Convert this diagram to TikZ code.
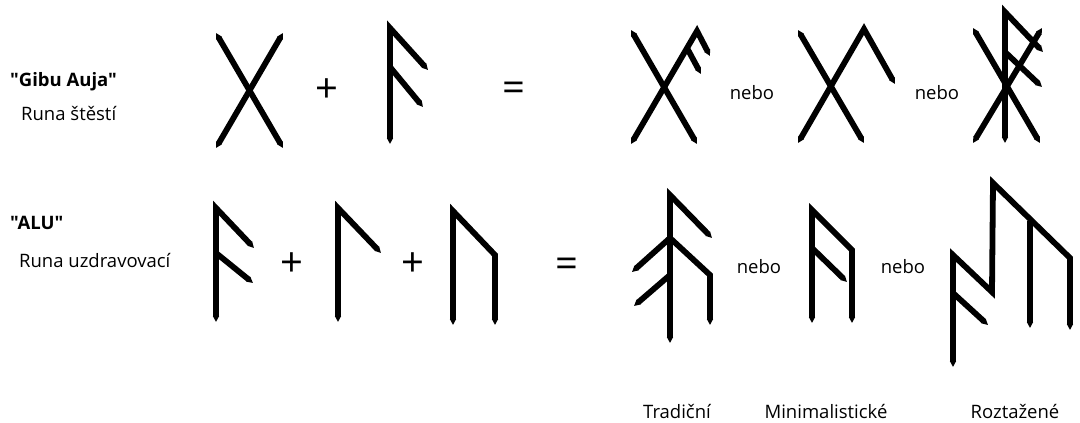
\documentclass[tikz,border=0pt]{standalone}
\usepackage{fontspec}
\setmainfont{Open Sans}[Ligatures=TeXOff]
\usetikzlibrary{arrows.meta}
\begin{document}
\begin{tikzpicture}[x=1pt,y=-1pt,
  rune/.style={line width=5.8pt, line cap=butt, line join=miter, miter limit=20},
  bothtip/.style={rune,{Triangle[length=6pt,width=5.9pt]}-{Triangle[length=6pt,width=5.9pt]}},
  starttip/.style={rune,{Triangle[length=6pt,width=5.9pt]}-},
  endtip/.style={rune,-{Triangle[length=6pt,width=5.9pt]}},
  title/.style={font=\fontsize{18.5}{21}\selectfont\bfseries, inner sep=0pt, anchor=base west},
  sub/.style={font=\fontsize{18.5}{21}\selectfont, inner sep=0pt, anchor=base west},
  lbl/.style={font=\fontsize{18.5}{21}\selectfont, inner sep=0pt, anchor=base},
  op/.style={font=\fontsize{40}{40}\selectfont, inner sep=0pt}]
\useasboundingbox[fill=white] (0,0) rectangle (1080,423);

% ---------- left labels ----------
\node[title] (gibu) at (10,86) {"Gibu Auja"};
\node[sub] (stesti) at (21,120) {Runa štěstí};
\node[title] (alu) at (10,229) {"ALU"};
\node[sub] (uzdr) at (19,267) {Runa uzdravovací};

% ---------- row 1 ----------
% Gebo
\draw[bothtip] (216,33) -- (283,148);
\draw[bothtip] (216,148) -- (283,33);
\node[op] (plus1) at (327,91) {+};
% Ansuz
\draw[bothtip] (390,144) -- (390,28) -- (428,70);
\draw[endtip] (390,67) -- (423,107);
\node[op] (eq1) at (514,92) {=};
% result 1
\draw[bothtip] (631,30) -- (697,144);
\draw[bothtip] (631,144) -- (697,31) -- (710,56);
\draw[endtip] (687,48) -- (701,74);
\node[lbl] (nebo1) at (752,99) {nebo};
% result 2
\draw[bothtip] (798,30) -- (864,143);
\draw[bothtip] (798,143) -- (864,29) -- (895,84);
\node[lbl] (nebo2) at (937,99) {nebo};
% result 3
\draw[bothtip] (1005,143) -- (1005,12) -- (1043,52);
\draw[bothtip] (973,28) -- (1040,143);
\draw[bothtip] (973,143) -- (1042,28);
\draw[endtip] (1005,52) -- (1042,87);

% ---------- row 2 ----------
% Ansuz
\draw[bothtip] (216,322) -- (216,208) -- (254,248);
\draw[endtip] (216,253) -- (253,283);
\node[op] (plus2) at (292,265) {+};
% Laguz
\draw[bothtip] (338,322) -- (338,208) -- (381,253);
\node[op] (plus3) at (413,265) {+};
% Uruz
\draw[bothtip] (453,325) -- (453,211) -- (495,255) -- (495,325);
\node[op] (eq2) at (567,268) {=};
% Tradicni
\draw[bothtip] (670,343) -- (670,195) -- (712,238);
\draw[bothtip] (632,272) -- (670,238) -- (710,275) -- (710,325);
\draw[starttip] (634,306) -- (670,275);
\node[lbl] (nebo3) at (759,273) {nebo};
% Minimalisticke
\draw[bothtip] (812,323) -- (812,210) -- (852,250) -- (852,323);
\draw[endtip] (812,248) -- (847,282);
\node[lbl] (nebo4) at (903,273) {nebo};
% Roztazene
\draw[bothtip] (953,367) -- (953,255) -- (992,292) -- (993,183) -- (1070,258) -- (1070,330);
\draw[endtip] (1030,221) -- (1030,328);
\draw[endtip] (953,293) -- (988,325);

% ---------- bottom labels ----------
\node[lbl] (trad) at (677,418) {Tradiční};
\node[lbl] (mini) at (826,418) {Minimalistické};
\node[lbl] (rozt) at (1015,418) {Roztažené};
\end{tikzpicture}
\end{document}
